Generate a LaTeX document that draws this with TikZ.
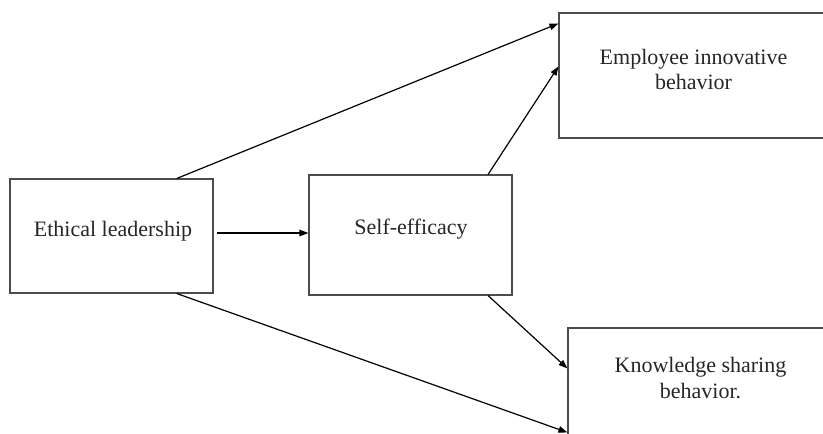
\documentclass[tikz,border=0pt]{standalone}
\usepackage{fontspec}
\setmainfont{Liberation Serif}
\usetikzlibrary{arrows.meta,calc}
\begin{document}
\begin{tikzpicture}[x=1pt,y=-1pt,
 box/.style={draw=black!70, line width=1.1pt, rectangle, inner sep=0pt},
 lbl/.style={font=\fontsize{22}{25.5}\selectfont, align=center, inner sep=0pt, text=black!85},
 arr/.style={line width=1.2pt, -{Triangle[length=9pt,width=6.5pt]}}]
\useasboundingbox (0,0) rectangle (823,434);
\clip (0,0) rectangle (823,434);
\node[box, minimum width=203pt, minimum height=114pt] (eth) at (111.5,236) {};
\node[box, minimum width=203pt, minimum height=120pt] (se) at (410.5,235) {};
\node[box, minimum width=281pt, minimum height=125pt] (emp) at (699.5,75.5) {};
\node[box, minimum width=272pt, minimum height=122pt] (ks) at (704,389) {};
\node[lbl] (etht) at (113,231) {Ethical leadership};
\node[lbl] (set) at (411,229) {Self-efficacy};
\node[lbl] (empt) at (693.5,69.5) {Employee innovative\\behavior};
\node[lbl] (kst) at (700.5,378) {Knowledge sharing\\behavior.};
\draw[arr] ($(eth.north west)!0.82!(eth.north east)$) -- ($(emp.north west)+(0,11)$);
\draw[arr] ($(se.north west)!0.88!(se.north east)$) -- ($(emp.north west)+(0,54)$);
\draw[arr] ($(eth.east)+(3,-3)$) -- ($(se.west)+(0,-2)$);
\draw[arr] ($(se.south west)!0.88!(se.south east)$) -- ($(ks.north west)+(0,41)$);
\draw[arr] ($(eth.south west)!0.82!(eth.south east)$) -- ($(ks.north west)+(0,105)$);
\end{tikzpicture}
\end{document}
